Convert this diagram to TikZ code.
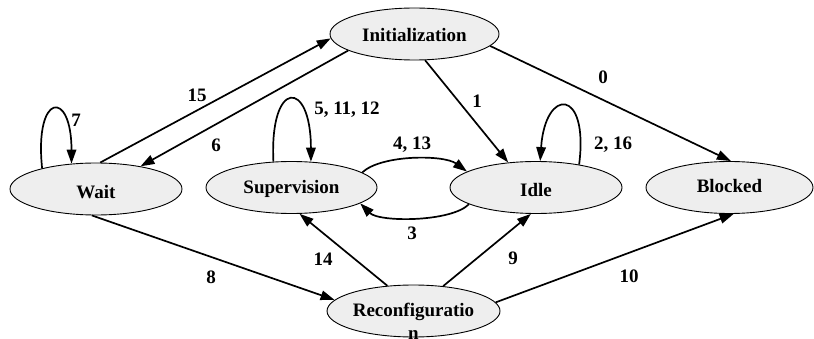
\documentclass[tikz,border=0pt]{standalone}
\usepackage{fontspec}
\setmainfont{Liberation Serif}
\usetikzlibrary{shapes.geometric,arrows.meta}
\definecolor{statefill}{HTML}{EEEEEE}
\tikzset{
  state/.style={ellipse, draw=black, line width=0.9pt, fill=statefill, inner sep=0pt,
    minimum width=171pt, minimum height=52pt,
    font=\fontsize{19}{23}\selectfont\bfseries, text depth=0pt, text height=13pt},
  trans/.style={line width=1.7pt, -{Triangle[length=14pt,width=9.5pt]}},
  lbl/.style={font=\fontsize{19}{23}\selectfont\bfseries, inner sep=0pt},
}
\begin{document}
\begin{tikzpicture}[x=1pt,y=-1pt]
\useasboundingbox (0,0) rectangle (814,339);
% states
\node[state, minimum width=169pt, text height=15pt] (init) at (414.5,34) {Initialization};
\node[state, minimum width=172pt, text height=20pt] (wait) at (96,189) {Wait};
\node[state, text height=13pt] (sup) at (291.5,187.5) {Supervision};
\node[state, minimum width=172pt, text height=19pt] (idle) at (536,187.5) {Idle};
\node[state, minimum width=167pt, text height=11pt] (blocked) at (729.5,187.5) {Blocked};
\node[state, minimum width=173pt, text height=11pt] (rec) at (413.5,311)
  {\smash{\begin{tabular}[t]{@{}c@{}}Reconfiguratio\\n\end{tabular}}};
% transitions
\draw[trans] (wait.81) -- (init.183);
\draw[trans] (init.194) -- (wait.27);
\draw[trans] (wait.159) .. controls +(-8,-76) and +(0,-75) .. (wait.134);
\draw[trans] (sup.125) .. controls +(-4,-83) and +(0,-83) .. (sup.53);
\draw[trans] (idle.28) .. controls +(10,-77) and +(5,-74) .. (idle.81);
\draw[trans] (sup.12) .. controls +(19,-18) and +(-23,-17) .. (idle.167);
\draw[trans] (idle.194) .. controls +(-18,18) and +(19,19) .. (sup.347);
\draw[trans] (init.292) -- (idle.138);
\draw[trans] (init.351) -- (blocked.87);
\draw[trans] (wait.261) -- (rec.172);
\draw[trans] (rec.136) -- (sup.287);
\draw[trans] (rec.40) -- (idle.259);
\draw[trans] (rec.6) -- (blocked.279);
% labels
\node[lbl] (l15) at (197,95) {15};
\node[lbl] (l6) at (216,145) {6};
\node[lbl] (l7) at (76,120) {7};
\node[lbl] (l51112) at (347,110) {5, 11, 12};
\node[lbl] (l413) at (412,145) {4, 13};
\node[lbl] (l3) at (412,233) {3};
\node[lbl] (l1) at (477,101) {1};
\node[lbl] (l216) at (613,145) {2, 16};
\node[lbl] (l0) at (603,77) {0};
\node[lbl] (l8) at (211,277) {8};
\node[lbl] (l14) at (323,259) {14};
\node[lbl] (l9) at (513,258) {9};
\node[lbl] (l10) at (629,276) {10};
\end{tikzpicture}
\end{document}
